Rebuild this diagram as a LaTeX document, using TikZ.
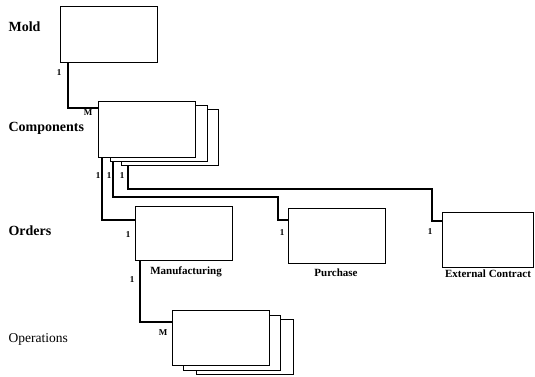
\documentclass[tikz,border=0pt]{standalone}
\usepackage{fontspec}
\setmainfont{Liberation Serif}
\begin{document}
\begin{tikzpicture}[x=1pt,y=-1pt, line width=1.2pt,
  box/.style={draw, fill=white, anchor=north west, inner sep=0pt, minimum width=97pt, minimum height=55pt},
  lbl/.style={font=\bfseries\fontsize{14}{16}\selectfont, anchor=west, inner sep=0pt},
  lblr/.style={font=\fontsize{13.5}{16}\selectfont, anchor=west, inner sep=0pt},
  sub/.style={font=\bfseries\fontsize{11}{13}\selectfont, inner sep=0pt},
  card/.style={font=\bfseries\fontsize{9}{10}\selectfont, inner sep=0pt}]
\useasboundingbox (0,0) rectangle (535,376);

% boxes
\node[box, minimum height=56pt] (mold) at (60,6) {};
\node[box, minimum height=56pt] (c3) at (121,109) {};
\node[box, minimum height=56pt] (c2) at (110,105) {};
\node[box, minimum height=56pt] (c1) at (98,101) {};
\node[box, minimum height=54pt] (mfg) at (135,206) {};
\node[box] (pur) at (288,208) {};
\node[box, minimum width=91pt] (ext) at (442,212) {};
\node[box] (ops3) at (196,319) {};
\node[box] (ops2) at (183,315) {};
\node[box] (ops1) at (172,310) {};

% row labels
\node[lbl] (tmold) at (8,27) {Mold};
\node[lbl] (tcomp) at (8,128) {Components};
\node[lbl] (tord) at (8,231) {Orders};
\node[lblr] (tops) at (8,339) {Operations};

% box captions
\node[sub] (tmfg) at (186,272) {Manufacturing};
\node[sub] (tpur) at (336,273) {Purchase};
\node[sub] (text) at (488,274) {External Contract};

% connectors
\coordinate (b2a) at (278,197);
\coordinate (b3a) at (432,189);
\draw ([xshift=8pt]mold.south west) |- ([yshift=-7pt]c1.north west);
\draw ([xshift=4pt]c1.south west) |- ([yshift=-14pt]mfg.north west);
\draw ([xshift=3pt]c2.south west) |- (b2a) |- ([yshift=-12pt]pur.north west);
\draw ([xshift=7pt]c3.south west) |- (b3a) |- ([yshift=-9pt]ext.north west);
\draw ([xshift=5pt]mfg.south west) |- ([yshift=-12pt]ops1.north west);

% cardinalities
\node[card] (k1) at (59,73) {1};
\node[card] (k2) at (88,113) {M};
\node[card] (k3) at (98,176) {1};
\node[card] (k4) at (109,176) {1};
\node[card] (k5) at (122,176) {1};
\node[card] (k6) at (128,235) {1};
\node[card] (k7) at (282,233) {1};
\node[card] (k8) at (430,232) {1};
\node[card] (k9) at (132,280) {1};
\node[card] (k10) at (163,333) {M};
\end{tikzpicture}
\end{document}
